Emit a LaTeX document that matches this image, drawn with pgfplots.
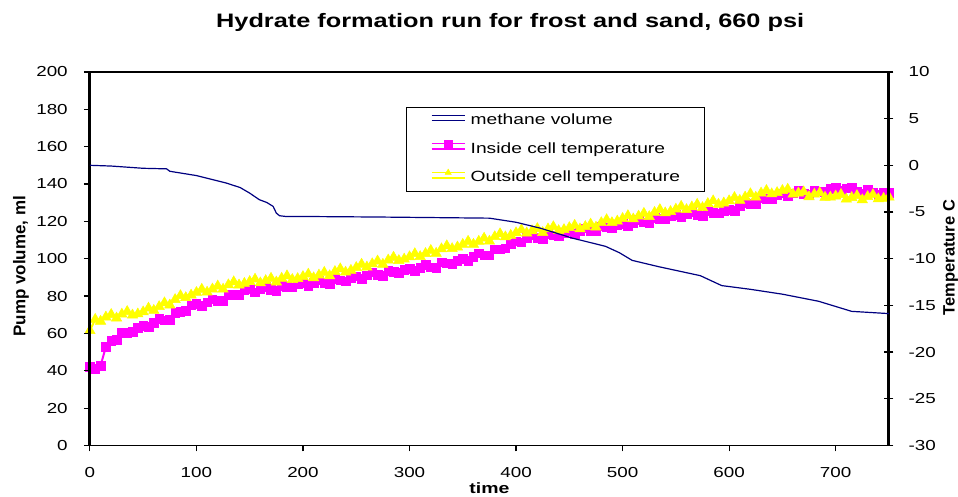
\documentclass[border=0pt]{standalone}
\usepackage{pgfplots}
\usepackage{pgfplotstable}
\pgfplotsset{compat=1.18}
\usepackage{fontspec}
\setmainfont{Liberation Sans}[FakeStretch=1.3]
\newfontfamily\narrowlabel{Liberation Sans}

\definecolor{methaneblue}{RGB}{0,0,128}
\definecolor{insidemag}{RGB}{255,0,255}
\definecolor{outsideyel}{RGB}{255,255,0}

\newcommand\tickfont{\fontsize{14.5bp}{17bp}\selectfont}
\newcommand\legendfont{\fontsize{14.8bp}{17bp}\selectfont}

% pump volume of methane (ml) against time
\pgfplotstableread{
t V
0 150
20 149.6
50 148.4
72 148.1
75 146.8
100 144.5
128 140.5
141 138.1
150 135.1
159 131.6
166 130.1
172 128.0
175 124.4
178 123.0
184 122.6
200 122.6
272 122.3
375 121.7
400 119.5
423 116.3
453 111.0
484 106.6
497 103.2
509 99.1
534 95.7
573 90.9
593 85.6
620 83.6
650 81.0
684 77.2
715 71.8
750 70.6
}\methanedata

% inside and outside cell temperature (C) against time
\pgfplotstableread{
t In Out
0 -21.55 -17.70
5 -21.80 -16.50
10 -21.45 -16.70
15 -19.45 -16.25
20 -18.80 -15.98
25 -18.65 -16.36
30 -17.90 -15.94
35 -17.90 -15.66
40 -17.85 -16.04
45 -17.40 -15.92
50 -17.15 -15.70
55 -17.30 -15.30
60 -16.85 -15.54
65 -16.45 -15.14
70 -16.60 -14.73
75 -16.55 -14.96
80 -15.80 -14.38
85 -15.70 -13.96
90 -15.55 -14.18
95 -15.00 -13.90
100 -14.83 -13.62
105 -15.05 -13.28
110 -14.68 -13.59
115 -14.35 -13.25
120 -14.52 -12.93
125 -14.48 -13.27
130 -13.85 -12.80
135 -13.87 -12.48
140 -13.83 -12.82
145 -13.40 -12.65
150 -13.29 -12.45
155 -13.59 -12.20
160 -13.28 -12.60
165 -13.02 -12.35
170 -13.31 -12.10
175 -13.41 -12.50
180 -12.90 -12.10
185 -13.02 -11.84
190 -13.08 -12.23
195 -12.75 -12.13
200 -12.62 -11.92
205 -12.88 -11.66
210 -12.55 -12.05
215 -12.29 -11.76
220 -12.58 -11.47
225 -12.68 -11.83
230 -12.17 -11.38
235 -12.31 -11.09
240 -12.40 -11.45
245 -12.04 -11.25
250 -11.88 -10.95
255 -12.12 -10.60
260 -11.76 -10.90
265 -11.45 -10.55
270 -11.73 -10.25
275 -11.81 -10.60
280 -11.29 -10.15
285 -11.41 -9.85
290 -11.49 -10.20
295 -11.17 -10.05
300 -11.05 -9.80
305 -11.30 -9.47
310 -10.95 -9.78
315 -10.65 -9.45
320 -10.90 -9.12
325 -10.95 -9.43
330 -10.40 -8.95
335 -10.50 -8.62
340 -10.55 -8.93
345 -10.20 -8.75
350 -9.99 -8.47
355 -10.19 -8.14
360 -9.78 -8.46
365 -9.42 -8.14
370 -9.61 -7.81
375 -9.61 -8.13
380 -9.00 -7.65
385 -8.97 -7.33
390 -8.88 -7.67
395 -8.40 -7.50
400 -8.12 -7.23
405 -8.23 -6.92
410 -7.75 -7.25
415 -7.48 -7.02
420 -7.77 -6.78
425 -7.85 -7.20
430 -7.33 -6.82
435 -7.47 -6.58
440 -7.55 -7.00
445 -7.22 -6.89
450 -7.08 -6.68
455 -7.35 -6.43
460 -7.02 -6.82
465 -6.73 -6.56
470 -7.00 -6.30
475 -7.07 -6.63
480 -6.53 -6.15
485 -6.65 -5.83
490 -6.72 -6.15
495 -6.38 -5.98
500 -6.25 -5.70
505 -6.50 -5.40
510 -6.15 -5.75
515 -5.85 -5.45
520 -6.10 -5.15
525 -6.15 -5.50
530 -5.60 -5.05
535 -5.72 -4.75
540 -5.78 -5.10
545 -5.45 -4.95
550 -5.32 -4.70
555 -5.58 -4.40
560 -5.25 -4.75
565 -5.00 -4.46
570 -5.30 -4.18
575 -5.40 -4.54
580 -4.90 -4.10
585 -5.05 -3.81
590 -5.15 -4.18
595 -4.85 -4.04
600 -4.75 -3.80
605 -4.88 -3.45
610 -4.40 -3.75
615 -3.98 -3.40
620 -4.10 -3.05
625 -4.11 -3.42
630 -3.52 -2.98
635 -3.58 -2.70
640 -3.58 -3.07
645 -3.19 -2.93
650 -3.00 -2.70
655 -3.30 -2.57
660 -3.00 -3.10
665 -2.75 -2.97
670 -3.05 -2.85
675 -3.15 -3.37
680 -2.65 -3.10
685 -2.80 -2.95
690 -2.86 -3.43
695 -2.53 -3.42
700 -2.39 -3.30
705 -2.65 -3.13
710 -2.47 -3.62
715 -2.34 -3.45
720 -2.76 -3.25
725 -2.98 -3.70
730 -2.60 -3.35
735 -2.88 -3.15
740 -3.10 -3.60
745 -2.93 -3.55
750 -2.95 -3.40
}\celldata

\pgfplotsset{
  insidestyle/.style={insidemag, line width=2bp, mark=square*, mark size=4.3bp,
    mark options={fill=insidemag, draw=insidemag, solid, line width=0.5bp}},
  outsidestyle/.style={outsideyel, line width=2bp, mark=triangle*, mark size=6bp,
    mark options={fill=outsideyel, draw=outsideyel, solid, line width=0.5bp}},
  chartbox/.style={
    scale only axis, width=800bp, height=374bp,
    xmin=0, xmax=750,
    every tick/.style={black, line width=1.2bp},
    tick label style={font=\tickfont, /pgf/number format/assume math mode=true},
  },
}

\begin{document}
\begin{tikzpicture}
% temperatures on the right-hand scale
\begin{axis}[
  chartbox,
  ymin=-30, ymax=10,
  axis x line=none,
  axis y line*=right,
  axis line style={-, line width=3bp},
  ytick={-30,-25,...,10},
  tick align=center, major tick length=9bp,
  yticklabel style={inner sep=0pt, anchor=west, xshift=15bp},
  ylabel={Temperature C},
  ylabel style={at={(axis description cs:1.0675,0.503)}, anchor=north, inner sep=0pt,
    font=\narrowlabel\bfseries\fontsize{16.5bp}{19bp}\selectfont},
  clip=false,
]
\addplot[insidestyle] table[x=t, y=In] {\celldata};
\addplot[outsidestyle] table[x=t, y=Out] {\celldata};
\end{axis}
% pump volume on the left-hand scale, with frame, title and legend
\begin{axis}[
  chartbox,
  name=ax,
  ymin=0, ymax=200,
  xtick={0,100,...,700}, ytick={0,20,...,200},
  xtick pos=left, ytick pos=left,
  tick align=outside, major tick length=6bp,
  separate axis lines,
  x axis line style={line width=1.8bp},
  y axis line style={line width=3bp},
  xticklabel style={inner sep=0pt, anchor=north, yshift=-16bp},
  yticklabel style={inner sep=0pt, anchor=east, xshift=-16bp},
  title={Hydrate formation run for frost and sand, 660 psi},
  title style={at={(axis description cs:0.526,1.104)}, anchor=base, inner sep=0pt,
    font=\bfseries\fontsize{19.5bp}{23bp}\selectfont},
  xlabel={time},
  xlabel style={at={(axis description cs:0.5,-0.128)}, anchor=base, inner sep=0pt,
    font=\bfseries\fontsize{15bp}{18bp}\selectfont},
  ylabel={Pump volume, ml},
  ylabel style={at={(axis description cs:-0.076,0.48)}, anchor=south, inner sep=0pt,
    font=\narrowlabel\bfseries\fontsize{17bp}{20bp}\selectfont},
  legend style={at={(axis description cs:0.396,0.907)}, anchor=north west,
    draw=black, line width=0.9bp, fill=white, font=\legendfont,
    inner xsep=24bp, inner ysep=5.5bp, column sep=5bp, row sep=11.8bp,
    nodes={inner sep=0pt, text height=12bp, text depth=4bp}},
  legend cell align=left,
  legend image code/.code={%
    \path (0bp,0bp) -- (33bp,0bp);
    \draw[mark repeat=2, mark phase=2, #1, line width=1bp, mark size=3.6bp]
      plot coordinates {(0bp,5.3bp) (16.5bp,5.3bp) (33bp,5.3bp)};},
]
\addplot[methaneblue, line width=1.2bp] table[x=t, y=V] {\methanedata};
\addlegendentry{methane volume}
\addlegendimage{insidestyle}
\addlegendentry{Inside cell temperature}
\addlegendimage{outsidestyle}
\addlegendentry{Outside cell temperature}
\end{axis}
\path (ax.south west) ++(-90bp,-51bp) rectangle ++(958bp,497bp);
\end{tikzpicture}
\end{document}
